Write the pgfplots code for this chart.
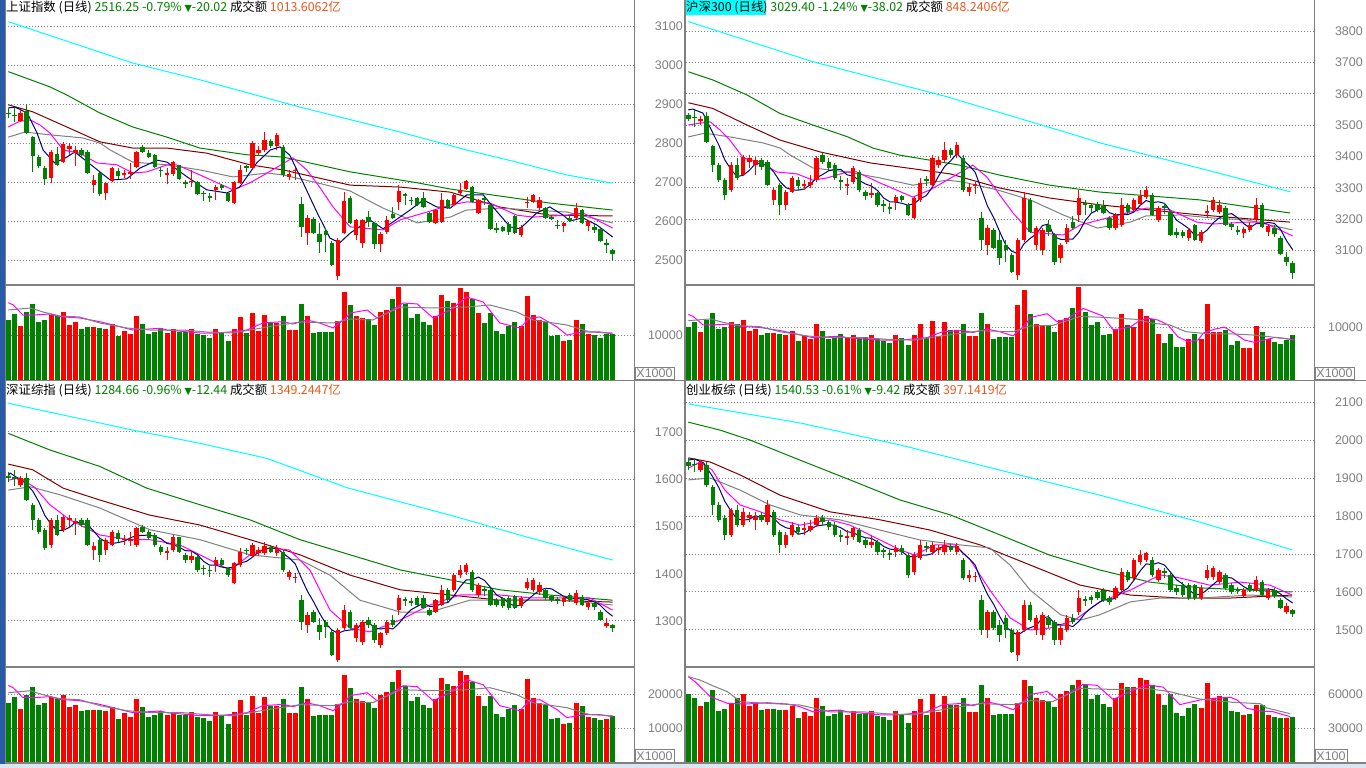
\documentclass[border=0pt]{standalone}
\usepackage{fontspec}
\setmainfont{Liberation Sans}
\newfontfamily\cjk{Noto Sans CJK SC}
\newfontfamily\dejavu{DejaVu Sans}
\usepackage{pgfplots}
\usepackage{pgfplotstable}
\pgfplotsset{compat=1.18}

\definecolor{kred}{RGB}{255,0,0}
\definecolor{kgreen}{RGB}{0,128,0}
\definecolor{maA}{RGB}{0,0,128}
\definecolor{maB}{RGB}{255,0,255}
\definecolor{maC}{RGB}{128,128,128}
\definecolor{maD}{RGB}{128,0,0}
\definecolor{maE}{RGB}{0,128,0}
\definecolor{maF}{RGB}{0,255,255}
\definecolor{frm}{RGB}{128,128,128}
\definecolor{lab}{RGB}{128,128,128}
\definecolor{amt}{RGB}{230,90,30}
\definecolor{txg}{RGB}{0,128,0}
\definecolor{winblue}{RGB}{40,90,170}
\definecolor{stat}{RGB}{220,230,242}

\pgfplotsset{
  kbase/.style={scale only axis, anchor=north west, width=628.5pt,
    axis line style={draw=none}, xtick=\empty, xmin=-0.46, xmax=102.5,
    scaled y ticks=false,
    yticklabel pos=right, major tick length=0pt, ymajorgrids,
    grid style={draw=lab, line width=1pt, dash pattern=on 1pt off 2pt},
    yticklabel style={anchor=east, inner sep=0pt, xshift=49pt,
      font=\fontsize{12.5}{12.5}\selectfont, text=lab}},
  wickg/.style={kgreen, line width=1pt, quiver={u=0,v=\thisrow{h}-\thisrow{l}},
    restrict expr to domain={\thisrow{c}-\thisrow{o}}{-100000:-0.0001}},
  bodyg/.style={kgreen, line width=4.4pt, quiver={u=0,v=\thisrow{c}-\thisrow{o}},
    restrict expr to domain={\thisrow{c}-\thisrow{o}}{-100000:-0.0001}},
  wickr/.style={kred, line width=1pt, quiver={u=0,v=\thisrow{h}-\thisrow{l}},
    restrict expr to domain={\thisrow{c}-\thisrow{o}}{0:100000}},
  bodyr/.style={kred, line width=4.4pt, quiver={u=0,v=\thisrow{c}-\thisrow{o}},
    restrict expr to domain={\thisrow{c}-\thisrow{o}}{0:100000}},
  volg/.style={kgreen, line width=5pt, ycomb,
    restrict expr to domain={\thisrow{c}-\thisrow{o}}{-100000:-0.0001}},
  volr/.style={kred, line width=5pt, ycomb,
    restrict expr to domain={\thisrow{c}-\thisrow{o}}{0:100000}},
  ma/.style={line width=1pt},
}

% 上证指数
\pgfplotstableread{
i o h l c v
0 2877 2890 2864 2875 13300
1 2873 2892 2854 2870 14700
2 2856 2885 2854 2877 12000
3 2882 2900 2823 2826 15100
4 2815 2818 2726 2767 16900
5 2764 2769 2736 2741 12900
6 2736 2741 2692 2708 13300
7 2710 2782 2697 2777 14500
8 2772 2790 2741 2744 14200
9 2751 2803 2749 2797 15100
10 2785 2800 2769 2792 12300
11 2774 2792 2741 2782 12900
12 2782 2787 2764 2769 11400
13 2777 2782 2721 2723 11800
14 2692 2718 2672 2705 11800
15 2723 2726 2664 2669 11600
16 2672 2700 2654 2697 11400
17 2703 2739 2700 2736 12400
18 2728 2736 2708 2715 9800
19 2719 2731 2710 2722 11000
20 2721 2749 2708 2726 10200
21 2739 2780 2736 2777 14200
22 2790 2795 2774 2777 12400
23 2774 2782 2762 2764 10200
24 2769 2772 2736 2739 10700
25 2732 2739 2713 2729 11500
26 2718 2736 2695 2722 10500
27 2721 2754 2715 2751 11300
28 2744 2744 2705 2708 10700
29 2700 2705 2685 2695 10700
30 2700 2731 2687 2703 11300
31 2700 2703 2667 2669 10200
32 2671 2677 2651 2668 9900
33 2663 2672 2649 2660 9300
34 2680 2692 2654 2687 11300
35 2692 2695 2680 2685 10500
36 2672 2674 2649 2651 8700
37 2646 2703 2644 2700 11300
38 2697 2744 2695 2731 14000
39 2740 2744 2726 2737 10500
40 2736 2805 2733 2800 14900
41 2774 2792 2769 2782 11000
42 2782 2828 2777 2808 14500
43 2805 2810 2787 2792 12600
44 2792 2826 2782 2821 12600
45 2790 2795 2713 2718 14200
46 2713 2731 2705 2721 11100
47 2727 2736 2705 2730 11100
48 2644 2662 2559 2585 16900
49 2569 2615 2538 2608 14200
50 2605 2610 2567 2569 10400
51 2567 2595 2518 2546 10700
52 2574 2582 2521 2564 10700
53 2544 2549 2485 2487 10700
54 2459 2556 2449 2551 13100
55 2569 2674 2567 2651 19600
56 2659 2664 2592 2595 16700
57 2564 2605 2551 2603 14200
58 2544 2605 2531 2603 13700
59 2610 2626 2585 2597 13500
60 2595 2597 2528 2541 12200
61 2541 2572 2521 2567 15100
62 2572 2613 2567 2603 15600
63 2618 2636 2605 2608 18000
64 2649 2692 2628 2677 20700
65 2668 2672 2641 2665 17000
66 2655 2662 2641 2652 13800
67 2659 2662 2639 2641 14700
68 2659 2674 2633 2636 12900
69 2621 2623 2595 2597 12200
70 2595 2631 2592 2628 14200
71 2597 2672 2595 2654 18900
72 2654 2656 2631 2633 17600
73 2641 2669 2639 2667 17100
74 2672 2697 2667 2680 20400
75 2682 2705 2680 2703 19600
76 2687 2690 2646 2649 18000
77 2621 2656 2618 2654 14900
78 2658 2662 2641 2655 12700
79 2641 2644 2577 2580 14900
80 2582 2595 2569 2577 10900
81 2585 2587 2572 2574 10200
82 2592 2597 2564 2572 12000
83 2613 2615 2567 2569 12900
84 2564 2590 2559 2585 12000
85 2648 2662 2633 2650 18700
86 2649 2669 2646 2667 14400
87 2633 2662 2628 2654 13300
88 2633 2636 2605 2608 12900
89 2610 2615 2603 2606 9800
90 2591 2603 2580 2588 10000
91 2587 2597 2572 2595 8700
92 2608 2615 2597 2600 8900
93 2608 2646 2605 2633 13300
94 2628 2631 2592 2595 12500
95 2587 2603 2574 2600 10200
96 2585 2592 2569 2577 10000
97 2580 2582 2546 2549 9300
98 2544 2554 2518 2538 10200
99 2526 2528 2497 2516 10200
}\tl

% 沪深300
\pgfplotstableread{
i o h l c v
0 3533 3539 3514 3520 9980
1 3525 3549 3495 3522 11030
2 3514 3530 3501 3520 9000
3 3530 3543 3444 3447 11330
4 3434 3437 3351 3373 12680
5 3373 3380 3319 3325 9680
6 3325 3332 3262 3278 9980
7 3294 3383 3287 3373 10880
8 3373 3396 3325 3332 10650
9 3341 3405 3338 3399 11330
10 3383 3405 3364 3396 9230
11 3373 3399 3341 3389 9680
12 3389 3396 3357 3367 8550
13 3383 3389 3306 3310 8850
14 3262 3303 3246 3294 8850
15 3310 3316 3214 3246 8700
16 3246 3293 3230 3287 8550
17 3287 3338 3284 3332 9300
18 3325 3335 3294 3306 7350
19 3306 3325 3294 3313 8250
20 3310 3341 3300 3319 7650
21 3325 3402 3319 3396 10650
22 3405 3415 3377 3383 9300
23 3383 3396 3357 3364 7650
24 3373 3380 3325 3332 8030
25 3325 3338 3294 3319 8630
26 3306 3332 3278 3313 7880
27 3319 3370 3313 3364 8480
28 3351 3357 3287 3294 8030
29 3287 3294 3262 3274 8030
30 3278 3316 3268 3284 8480
31 3284 3287 3239 3246 7650
32 3249 3262 3223 3243 7430
33 3239 3252 3217 3233 6980
34 3255 3278 3230 3271 8480
35 3274 3278 3255 3262 7880
36 3246 3252 3211 3214 6530
37 3204 3274 3201 3268 8480
38 3262 3332 3255 3316 10500
39 3328 3338 3306 3322 7880
40 3310 3405 3303 3396 11180
41 3373 3399 3364 3389 8250
42 3389 3447 3383 3421 10880
43 3421 3428 3396 3405 9450
44 3405 3447 3396 3437 9450
45 3396 3405 3287 3294 10650
46 3287 3316 3274 3303 8330
47 3306 3319 3281 3313 8330
48 3204 3223 3102 3134 12680
49 3118 3182 3086 3172 10650
50 3166 3172 3105 3108 7800
51 3134 3159 3054 3076 8030
52 3118 3134 3064 3102 8030
53 3086 3092 3029 3032 8030
54 3022 3140 3006 3134 14150
55 3134 3287 3128 3268 17000
56 3262 3268 3156 3159 12530
57 3118 3179 3102 3172 10650
58 3102 3172 3086 3166 10280
59 3182 3198 3147 3159 10130
60 3150 3156 3054 3064 9150
61 3076 3124 3060 3118 11330
62 3128 3185 3121 3172 11700
63 3191 3211 3166 3172 13500
64 3214 3294 3191 3268 17500
65 3252 3262 3214 3246 12750
66 3246 3252 3217 3236 10350
67 3249 3255 3223 3230 11030
68 3242 3262 3217 3220 8490
69 3204 3211 3166 3172 8680
70 3172 3220 3166 3214 9560
71 3182 3268 3175 3246 12450
72 3246 3252 3217 3223 10380
73 3230 3268 3223 3262 10060
74 3249 3293 3242 3274 13400
75 3271 3306 3265 3293 12080
76 3278 3284 3211 3214 11450
77 3198 3242 3191 3236 8680
78 3242 3252 3217 3236 7040
79 3223 3230 3147 3150 8680
80 3159 3172 3140 3150 6290
81 3159 3166 3140 3147 6290
82 3140 3172 3131 3166 7740
83 3182 3185 3131 3134 8680
84 3131 3166 3124 3159 7740
85 3220 3246 3204 3226 14340
86 3230 3271 3223 3262 9060
87 3223 3262 3217 3246 9060
88 3236 3242 3178 3182 9430
89 3185 3191 3166 3175 6600
90 3166 3178 3150 3159 7360
91 3156 3175 3140 3169 6040
92 3166 3191 3159 3182 6040
93 3198 3268 3191 3246 10190
94 3246 3252 3172 3175 9060
95 3159 3185 3147 3178 7740
96 3172 3182 3143 3153 7170
97 3140 3147 3086 3089 6790
98 3080 3096 3051 3064 7550
99 3061 3067 3009 3029 8490
}\tr

% 深证综指
\pgfplotstableread{
i o h l c v
0 1607 1615 1594 1603 17420
1 1605 1620 1586 1601 19260
2 1588 1607 1584 1603 15720
3 1603 1613 1554 1556 19780
4 1546 1550 1493 1514 22140
5 1514 1518 1484 1488 16900
6 1493 1497 1450 1455 17420
7 1461 1518 1455 1514 19000
8 1514 1524 1480 1482 18600
9 1493 1524 1488 1520 19780
10 1514 1524 1499 1518 16110
11 1507 1518 1482 1511 16900
12 1514 1518 1499 1503 14930
13 1514 1518 1459 1461 15460
14 1450 1467 1429 1459 15460
15 1471 1476 1425 1440 15200
16 1450 1476 1440 1471 14930
17 1461 1493 1459 1488 16240
18 1486 1493 1467 1474 12840
19 1471 1482 1461 1474 14410
20 1469 1488 1459 1474 13360
21 1461 1499 1457 1497 18600
22 1499 1503 1486 1488 16240
23 1488 1493 1471 1476 13360
24 1482 1486 1457 1461 14020
25 1457 1461 1440 1446 15070
26 1444 1457 1429 1448 13760
27 1450 1482 1446 1478 14800
28 1478 1478 1444 1446 14020
29 1440 1444 1423 1429 14020
30 1429 1450 1423 1437 14800
31 1435 1440 1404 1408 13360
32 1412 1418 1397 1410 12970
33 1408 1416 1393 1406 12180
34 1418 1435 1404 1429 14800
35 1429 1434 1414 1418 13760
36 1412 1414 1393 1397 11400
37 1381 1425 1378 1423 14800
38 1418 1454 1414 1446 18340
39 1450 1454 1440 1448 13760
40 1438 1465 1433 1461 19520
41 1444 1457 1438 1450 14410
42 1444 1467 1440 1459 19000
43 1457 1461 1444 1446 16510
44 1444 1461 1438 1454 16510
45 1446 1450 1404 1408 18600
46 1393 1408 1387 1404 14540
47 1391 1401 1381 1393 14540
48 1344 1355 1281 1298 22140
49 1292 1319 1275 1313 18600
50 1319 1323 1296 1298 13620
51 1292 1306 1260 1277 14020
52 1298 1302 1264 1287 14020
53 1277 1281 1226 1228 14020
54 1218 1285 1213 1281 17160
55 1285 1334 1281 1323 25680
56 1319 1323 1281 1285 21880
57 1264 1296 1256 1292 18600
58 1256 1302 1249 1298 17950
59 1302 1308 1285 1292 17690
60 1292 1296 1254 1260 15980
61 1249 1277 1243 1275 19780
62 1275 1302 1270 1298 20440
63 1302 1313 1288 1292 23580
64 1323 1355 1313 1349 27120
65 1347 1351 1332 1342 22270
66 1342 1349 1332 1338 18080
67 1349 1353 1332 1334 19260
68 1349 1355 1325 1328 16900
69 1323 1327 1310 1313 15980
70 1319 1346 1317 1344 18600
71 1334 1376 1332 1366 24760
72 1366 1370 1340 1344 23060
73 1366 1401 1361 1397 22400
74 1397 1418 1391 1408 26720
75 1404 1423 1397 1418 25680
76 1404 1408 1361 1366 23580
77 1355 1380 1351 1376 19520
78 1368 1374 1353 1363 16640
79 1366 1370 1332 1334 19520
80 1344 1349 1330 1334 14280
81 1349 1351 1328 1332 13360
82 1349 1353 1323 1328 15720
83 1353 1355 1325 1328 16900
84 1332 1353 1328 1349 15720
85 1370 1391 1366 1383 24500
86 1366 1391 1361 1387 18860
87 1361 1383 1355 1376 17420
88 1366 1370 1344 1349 16900
89 1353 1355 1340 1344 12840
90 1347 1351 1336 1342 13100
91 1340 1353 1332 1349 11400
92 1355 1359 1340 1344 11660
93 1338 1366 1334 1359 17420
94 1351 1355 1332 1334 16380
95 1330 1344 1323 1338 13360
96 1338 1342 1323 1330 13100
97 1319 1323 1300 1302 12420
98 1290 1306 1285 1296 12710
99 1292 1294 1277 1285 13590
}\bl

% 创业板综
\pgfplotstableread{
i o h l c v
0 1942 1953 1921 1932 59740
1 1937 1953 1916 1934 56760
2 1921 1947 1916 1940 49500
3 1934 1942 1876 1882 53260
4 1876 1882 1803 1829 63500
5 1829 1837 1784 1790 45130
6 1795 1803 1737 1750 46880
7 1750 1821 1745 1816 50990
8 1816 1829 1771 1776 56800
9 1776 1821 1771 1811 60400
10 1795 1811 1784 1803 49200
11 1790 1811 1763 1797 51600
12 1803 1811 1784 1790 45600
13 1784 1842 1776 1829 47200
14 1811 1816 1745 1750 47200
15 1758 1763 1702 1724 46400
16 1724 1758 1716 1750 45600
17 1750 1784 1745 1776 49600
18 1771 1776 1750 1758 39200
19 1763 1784 1750 1768 44000
20 1763 1790 1758 1774 40800
21 1776 1803 1771 1795 56800
22 1795 1803 1776 1784 49600
23 1784 1790 1763 1771 40800
24 1776 1784 1745 1750 42800
25 1750 1763 1732 1745 46000
26 1742 1763 1724 1747 42000
27 1745 1771 1737 1768 45200
28 1763 1768 1729 1732 42800
29 1737 1745 1716 1724 42800
30 1724 1750 1716 1732 45200
31 1732 1737 1697 1705 40800
32 1711 1716 1690 1705 39600
33 1703 1711 1684 1697 37200
34 1705 1724 1692 1716 45200
35 1716 1724 1697 1705 42000
36 1697 1703 1637 1645 34800
37 1653 1705 1645 1697 45200
38 1690 1737 1684 1724 56000
39 1721 1732 1705 1716 42000
40 1705 1732 1697 1724 59600
41 1711 1724 1697 1716 44000
42 1705 1737 1697 1724 58000
43 1721 1726 1705 1711 50400
44 1705 1729 1697 1721 50400
45 1684 1690 1632 1637 56800
46 1637 1658 1626 1645 44400
47 1640 1653 1626 1642 44400
48 1579 1592 1487 1500 67600
49 1500 1553 1479 1547 56800
50 1547 1553 1500 1505 41600
51 1513 1526 1468 1487 42800
52 1532 1540 1479 1500 42800
53 1500 1505 1439 1442 42800
54 1434 1500 1418 1495 52400
55 1500 1579 1495 1566 72000
56 1566 1574 1521 1526 66800
57 1500 1540 1487 1532 56800
58 1487 1547 1474 1540 54800
59 1532 1540 1505 1513 54000
60 1521 1526 1461 1474 48800
61 1474 1513 1461 1505 60400
62 1500 1540 1495 1532 62400
63 1532 1542 1516 1521 68000
64 1547 1605 1540 1584 72000
65 1582 1589 1563 1576 68000
66 1587 1592 1568 1579 55200
67 1600 1605 1579 1584 58800
68 1605 1611 1574 1579 51600
69 1584 1590 1566 1574 48800
70 1584 1616 1579 1611 56800
71 1605 1663 1600 1653 70000
72 1653 1658 1626 1632 66000
73 1637 1690 1632 1684 66000
74 1679 1711 1671 1697 74000
75 1684 1705 1679 1703 72000
76 1684 1692 1640 1645 68000
77 1632 1663 1626 1658 59600
78 1655 1663 1637 1650 50800
79 1645 1650 1600 1605 59600
80 1611 1618 1592 1600 43600
81 1618 1626 1587 1592 40800
82 1618 1624 1579 1584 48000
83 1618 1621 1579 1584 51600
84 1584 1618 1579 1611 48020
85 1637 1671 1632 1658 69880
86 1640 1668 1632 1663 56240
87 1626 1658 1621 1653 58250
88 1645 1650 1605 1611 56760
89 1618 1624 1595 1600 45130
90 1608 1613 1595 1603 44260
91 1590 1611 1584 1605 41630
92 1618 1624 1600 1605 42510
93 1605 1642 1600 1632 50380
94 1626 1632 1589 1592 50380
95 1584 1611 1579 1605 41630
96 1605 1611 1584 1590 39880
97 1579 1584 1555 1558 39010
98 1547 1571 1542 1563 39010
99 1553 1555 1534 1541 39880
}\br

\newcommand\candles[1]{%
  \addplot[wickg] table[x=i,y=l] {#1};
  \addplot[bodyg] table[x=i,y=o] {#1};
  \addplot[wickr] table[x=i,y=l] {#1};
  \addplot[bodyr] table[x=i,y=o] {#1};}
\newcommand\volbars[1]{%
  \addplot[volg] table[x=i,y=v] {#1};
  \addplot[volr] table[x=i,y=v] {#1};}

\begin{document}
\begin{tikzpicture}[x=1pt,y=1pt]
\useasboundingbox (0,0) rectangle (1366,-768);
\fill[white] (0,0) rectangle (1366,-768);

% ---------- 上证指数 ----------
\begin{axis}[kbase, at={(5.5pt,0pt)}, height=285pt, ymin=2435.9, ymax=3166.7,
  ytick={2500,2600,2700,2800,2900,3000,3100},
  yticklabels={2500,2600,2700,2800,2900,3000,3100}]
\addplot[ma, maF] coordinates {(0,3111) (20.4,3005) (31.4,2962) (47.8,2892) (64.2,2828) (75.1,2782) (83.3,2751) (91.5,2718) (99,2697)};
\addplot[ma, maE] coordinates {(0,2983) (6.8,2944) (9.6,2923) (15,2877) (20.4,2841) (26,2815) (31.4,2787) (39,2770) (45,2764) (56,2726) (67,2698) (72.4,2682) (88.7,2646) (99,2628)};
\addplot[ma, maD] coordinates {(0,2898) (4,2880) (9.6,2841) (15,2803) (20.4,2787) (26,2787) (32.5,2774) (39.6,2744) (45,2731) (56,2692) (64.2,2687) (72.4,2674) (80.5,2636) (88.7,2615) (99,2613)};
\addplot[ma, maC] coordinates {(0,2815) (2.7,2828) (6.8,2821) (12.2,2813) (15,2800) (16.7,2782) (20.4,2751) (26,2744) (31.4,2731) (36.8,2713) (42.4,2723) (45,2718) (50.6,2698) (56,2677) (61.4,2633) (67,2595) (72.4,2610) (75,2628) (80.5,2633) (86,2628) (91.5,2623) (99,2595)};
\addplot[ma, maB] coordinates {(0,2841) (1.9,2856) (3.6,2859) (5.2,2846) (6.8,2826) (9,2782) (11.7,2774) (14.5,2749) (17.8,2744) (20.4,2723) (22.7,2726) (26,2744) (27.6,2744) (31.4,2718) (36.8,2680) (39.6,2698) (42.4,2723) (46.6,2762) (48.9,2731) (51,2687) (53.2,2636) (56,2585) (61.4,2577) (64.2,2603) (68.6,2623) (72.4,2641) (75.1,2649) (78.9,2646) (83.3,2615) (86,2610) (91.5,2615) (94.1,2621) (99,2582)};
\addplot[ma, maA] coordinates {(0,2890) (1.1,2892) (3.1,2877) (4.7,2826) (5.7,2782) (7.6,2749) (9.6,2764) (10.9,2777) (15,2726) (16.7,2705) (19.4,2708) (21.6,2736) (24.4,2756) (26,2751) (29.3,2713) (32.5,2680) (35.8,2672) (37.9,2687) (40.7,2749) (42.9,2782) (44.5,2790) (46.1,2769) (48.3,2698) (50.6,2621) (52.7,2556) (54.3,2544) (56,2569) (59.2,2603) (61.4,2580) (65.8,2628) (68,2654) (70.2,2636) (72.4,2633) (75.1,2667) (77.8,2667) (79.4,2636) (82.2,2585) (83.8,2580) (86.6,2621) (88.7,2636) (90.9,2615) (92,2600) (94.1,2608) (96.4,2590) (99,2559)};
\candles{\tl}
\end{axis}
\begin{axis}[kbase, at={(5.5pt,-285pt)}, height=95pt, ymin=0, ymax=21111,
  ytick={10000}, yticklabels={10000}]
\volbars{\tl}
\addplot[ma, maB] coordinates {(0,17180) (0.8,16670) (2.4,14440) (4,14440) (6.8,14670) (8.5,14070) (11.7,13780) (15,12960) (17.2,12220) (20.4,11110) (24.9,11490) (26,11110) (31.4,10440) (34.2,10440) (36.8,10730) (39.1,11110) (41.7,12670) (45,12960) (46.6,12440) (48.9,13330) (51,12670) (53.2,11560) (55.3,13780) (56,14890) (58.8,15550) (60.4,13780) (62,14890) (64.7,17110) (67,16890) (69.6,13780) (72.4,15550) (75.1,18440) (77.8,17330) (80.5,12670) (83.8,11560) (85.4,13780) (87.1,14000) (89.9,11780) (91.5,10000) (94.1,10670) (96.9,10670) (99,10220)};
\addplot[ma, maC] coordinates {(0,15550) (3.6,16000) (5.7,15110) (8.5,14220) (11.7,14000) (15,12670) (19.4,11560) (23.2,11110) (28.6,11110) (32.5,10670) (36.8,10440) (42.4,11780) (47.8,12890) (53.2,12670) (56,13560) (59.7,13330) (64.2,16220) (69.6,16000) (75.1,16220) (78.9,16670) (83.3,15110) (86,13330) (91.5,12220) (95.3,10670) (99,10440)};
\end{axis}

% ---------- 沪深300 ----------
\begin{axis}[kbase, at={(685.5pt,0pt)}, height=285pt, ymin=2990.3, ymax=3900,
  ytick={3100,3200,3300,3400,3500,3600,3700,3800},
  yticklabels={3100,3200,3300,3400,3500,3600,3700,3800}]
\addplot[ma, maF] coordinates {(0,3831) (20.4,3703) (42.4,3591) (64.2,3464) (67.4,3444) (83.8,3363) (98.6,3288)};
\addplot[ma, maE] coordinates {(0,3671) (4,3645) (9.6,3597) (15,3538) (20.4,3501) (26,3464) (30.3,3427) (34.6,3405) (44.4,3373) (51,3341) (59.2,3309) (67.4,3287) (83.8,3262) (98.6,3220)};
\addplot[ma, maD] coordinates {(0,3572) (4,3554) (9.6,3501) (15,3453) (21.6,3415) (29.8,3380) (42.9,3345) (51,3300) (59.2,3268) (67.4,3246) (83.8,3214) (98.6,3191)};
\addplot[ma, maC] coordinates {(0,3463) (2.7,3475) (6.8,3463) (12.2,3444) (15,3428) (16.7,3405) (20.4,3364) (26,3351) (31.4,3332) (36.8,3309) (42.4,3325) (45,3319) (50.6,3294) (56,3262) (61.4,3214) (67,3172) (72.4,3191) (75,3211) (80.5,3214) (86,3204) (91.5,3198) (99,3166)};
\addplot[ma, maB] coordinates {(0,3501) (1.9,3507) (3.6,3511) (5.2,3485) (6.8,3453) (9,3396) (11.7,3383) (14.5,3351) (17.8,3345) (20.4,3325) (22.7,3332) (26,3351) (27.6,3351) (31.4,3316) (36.8,3271) (39.6,3294) (42.4,3325) (46.6,3373) (48.9,3335) (51,3278) (53.2,3220) (56,3159) (61.4,3150) (64.2,3182) (68.6,3204) (72.4,3223) (75.1,3236) (78.9,3230) (83.3,3191) (86,3185) (91.5,3191) (94.1,3191) (99,3147)};
\addplot[ma, maA] coordinates {(0,3549) (0.7,3552) (2.4,3539) (4,3476) (5,3437) (6,3389) (7,3359) (8,3336) (9,3341) (10,3356) (11,3378) (12,3377) (13,3372) (14,3351) (15,3321) (16,3301) (17,3294) (18,3293) (19,3297) (20,3311) (21,3333) (22,3343) (23,3355) (24,3359) (25,3359) (26,3342) (27,3338) (28,3324) (29,3313) (30,3306) (31,3292) (32,3268) (33,3256) (34,3255) (35,3251) (36,3245) (37,3250) (38,3266) (39,3276) (40,3303) (41,3338) (42,3369) (43,3387) (44,3410) (45,3389) (46,3372) (47,3350) (48,3296) (49,3243) (50,3206) (51,3161) (52,3118) (53,3098) (54,3090) (55,3122) (56,3139) (57,3153) (58,3180) (59,3185) (60,3144) (61,3136) (62,3136) (63,3137) (64,3159) (65,3195) (66,3219) (67,3230) (68,3240) (69,3221) (70,3214) (71,3216) (72,3215) (73,3223) (74,3244) (75,3260) (76,3253) (77,3256) (78,3251) (79,3226) (80,3197) (81,3184) (82,3170) (83,3149) (84,3151) (85,3166) (86,3189) (87,3205) (88,3215) (89,3218) (90,3205) (91,3186) (92,3173) (93,3186) (94,3186) (95,3190) (96,3187) (97,3168) (98,3132) (99,3103)};
\candles{\tr}
\end{axis}
\begin{axis}[kbase, at={(685.5pt,-285pt)}, height=95pt, ymin=0, ymax=17925,
  ytick={10000}, yticklabels={10000}]
\volbars{\tr}
\addplot[ma, maB] coordinates {(0,12370) (0.8,12000) (2.4,10400) (4,10400) (6.8,10560) (8.5,10130) (11.7,9920) (15,9330) (17.2,8800) (20.4,8000) (24.9,8270) (26,8000) (31.4,7520) (34.2,7520) (36.8,7730) (39.1,8000) (41.7,9120) (45,9330) (46.6,8960) (48.9,9600) (51,9120) (53.2,8320) (55.3,10500) (56,11800) (58.8,12500) (60.4,11000) (62,11500) (64.7,13500) (67.9,12080) (69.6,9430) (72.4,10000) (73.6,10950) (75.2,11700) (76.9,11320) (78.6,10380) (80.2,8160) (81.9,7230) (83.5,7550) (84.4,8870) (86.1,9560) (87.8,9980) (89.4,8870) (91.1,7550) (92.7,7110) (94.4,7550) (96.1,8040) (97.7,7860) (99.2,7550)};
\addplot[ma, maC] coordinates {(0,11200) (3.6,11520) (5.7,10880) (8.5,10240) (11.7,10080) (15,9120) (19.4,8320) (23.2,8000) (28.6,8000) (32.5,7680) (36.8,7520) (42.4,8480) (47.8,9280) (53.2,9120) (56,10200) (59.7,10300) (64.2,12000) (67.9,11830) (73.3,11450) (76.1,10700) (78.9,10380) (81.5,9120) (84.3,8810) (87,8680) (89.4,8680) (92.5,8490) (95.1,8180) (98.6,7670)};
\end{axis}

% ---------- 深证综指 ----------
\begin{axis}[kbase, at={(5.5pt,-381pt)}, height=286pt, ymin=1202.6, ymax=1807.9,
  ytick={1300,1400,1500,1600,1700}, yticklabels={1300,1400,1500,1600,1700}]
\addplot[ma, maF] coordinates {(0,1761) (20.4,1704) (31.4,1676) (42.4,1644) (55.5,1582) (72.4,1524) (85.4,1476) (99,1429)};
\addplot[ma, maE] coordinates {(0,1697) (6.8,1662) (15,1627) (22.7,1581) (31.4,1546) (39.6,1514) (47.8,1472) (56,1440) (64.2,1408) (72.4,1387) (80.5,1366) (88.7,1355) (99,1344)};
\addplot[ma, maD] coordinates {(0,1632) (4,1620) (9,1581) (15,1556) (23.2,1524) (31.4,1503) (39.6,1472) (47.8,1440) (56,1397) (64.2,1366) (72.4,1355) (80.5,1344) (88.7,1344) (99,1340)};
\addplot[ma, maC] coordinates {(0,1577) (3.6,1584) (8.5,1567) (15,1539) (23.2,1493) (31.4,1472) (39.6,1440) (47.8,1429) (52.7,1397) (57.6,1344) (64.2,1319) (69.1,1319) (75.6,1344) (80.5,1344) (90.4,1344) (99,1334)};
\addplot[ma, maB] coordinates {(0,1598) (1.9,1603) (4.4,1582) (6.8,1546) (10.1,1514) (15,1482) (19.9,1472) (23.2,1472) (28.1,1461) (31.4,1440) (36.3,1408) (39.6,1440) (42.9,1455) (46.1,1450) (49.4,1408) (52.7,1323) (56,1285) (59.2,1277) (64.2,1302) (69.1,1334) (74,1355) (80.5,1355) (85.5,1349) (90.4,1349) (95.2,1349) (99,1323)};
\addplot[ma, maA] coordinates {(0,1607) (0.3,1613) (2.8,1592) (4,1575) (5,1552) (6,1523) (7,1505) (8,1491) (9,1492) (10,1498) (11,1509) (12,1507) (13,1503) (14,1490) (15,1475) (16,1467) (17,1464) (18,1466) (19,1469) (20,1476) (21,1481) (22,1481) (23,1482) (24,1479) (25,1474) (26,1464) (27,1462) (28,1456) (29,1449) (30,1448) (31,1440) (32,1426) (33,1418) (34,1418) (35,1414) (36,1412) (37,1415) (38,1423) (39,1426) (40,1435) (41,1446) (42,1453) (43,1453) (44,1454) (45,1443) (46,1434) (47,1421) (48,1391) (49,1363) (50,1341) (51,1316) (52,1295) (53,1281) (54,1274) (55,1279) (56,1281) (57,1282) (58,1296) (59,1298) (60,1285) (61,1283) (62,1285) (63,1283) (64,1295) (65,1311) (66,1324) (67,1331) (68,1338) (69,1331) (70,1331) (71,1337) (72,1339) (73,1353) (74,1372) (75,1387) (76,1387) (77,1393) (78,1386) (79,1371) (80,1355) (81,1348) (82,1338) (83,1331) (84,1334) (85,1344) (86,1355) (87,1365) (88,1369) (89,1368) (90,1360) (91,1352) (92,1346) (93,1348) (94,1346) (95,1345) (96,1341) (97,1333) (98,1320) (99,1310)};
\candles{\bl}
\end{axis}
\begin{axis}[kbase, at={(5.5pt,-667pt)}, height=95.6pt, ymin=0, ymax=27872,
  ytick={10000,20000}, yticklabels={10000,20000}]
\volbars{\bl}
\addplot[ma, maB] coordinates {(0,22500) (0.8,21840) (2.4,18920) (4,18920) (6.8,19220) (8.5,18430) (11.7,18050) (15,16980) (17.2,16010) (20.4,14550) (24.9,15050) (26,14550) (31.4,13680) (34.2,13680) (36.8,14060) (39.1,14550) (41.7,16600) (45,16980) (46.6,16300) (48.9,17460) (51,16600) (53.2,15140) (55.3,18050) (56,19510) (58.8,20370) (60.4,18050) (62,19510) (64.7,22410) (67,22130) (69.6,18050) (72.4,20370) (75.1,24160) (77.8,22700) (80.5,16600) (83.8,15140) (85.4,18050) (87.1,18340) (89.9,15430) (91.5,13100) (94.1,13980) (96.9,13980) (99,13390)};
\addplot[ma, maC] coordinates {(0,20370) (3.6,20960) (5.7,19790) (8.5,18630) (11.7,18340) (15,16600) (19.4,15140) (23.2,14550) (28.6,14550) (32.5,13980) (36.8,13680) (42.4,15430) (47.8,16890) (53.2,16600) (56,17760) (59.7,17460) (64.2,21250) (69.6,20960) (75.1,21250) (78.9,21840) (83.3,19790) (86,17460) (91.5,16010) (95.3,13980) (99,13680)};
\end{axis}

% ---------- 创业板综 ----------
\begin{axis}[kbase, at={(685.5pt,-381pt)}, height=286pt, ymin=1402.6, ymax=2155.3,
  ytick={1500,1600,1700,1800,1900,2000,2100},
  yticklabels={1500,1600,1700,1800,1900,2000,2100}]
\addplot[ma, maF] coordinates {(0,2095) (18.3,2045) (34.7,1987) (51,1921) (67.4,1855) (83.8,1784) (98.9,1711)};
\addplot[ma, maE] coordinates {(0,2047) (5.2,2026) (10.1,2000) (18.3,1947) (26.5,1895) (34.7,1842) (42.9,1803) (51.1,1750) (59.2,1697) (67.4,1658) (75.6,1626) (83.8,1611) (92,1605) (98.9,1600)};
\addplot[ma, maD] coordinates {(0,1953) (3.6,1942) (8.5,1908) (15,1855) (23.2,1811) (31.4,1790) (39.6,1763) (47.8,1724) (56,1671) (64.2,1618) (72.4,1592) (80.5,1584) (88.7,1584) (98.9,1592)};
\addplot[ma, maC] coordinates {(0,1895) (3.6,1900) (8.5,1868) (13.4,1829) (18.3,1803) (24.8,1790) (31.4,1763) (37.9,1737) (44.5,1724) (49.4,1716) (52.7,1671) (56,1605) (61,1540) (64.2,1526) (67.4,1540) (72.4,1574) (77.3,1584) (83.8,1584) (92,1592) (98.9,1587)};
\addplot[ma, maB] coordinates {(0,1926) (1.9,1942) (3.9,1921) (6,1868) (8.5,1829) (11.8,1811) (15,1790) (18.3,1776) (23.2,1790) (26.5,1776) (31.4,1737) (34.7,1711) (37.1,1697) (40.4,1724) (43.7,1724) (46.2,1684) (49.4,1605) (52.7,1532) (56,1500) (59.2,1505) (63.3,1526) (67.4,1574) (72.4,1605) (77.3,1645) (80.5,1637) (85.4,1618) (90.4,1626) (95.3,1618) (98.9,1592)};
\addplot[ma, maA] coordinates {(0,1947) (1,1950) (2.5,1940) (4,1903) (5,1875) (6,1838) (7,1813) (8,1792) (9,1789) (10,1791) (11,1801) (12,1795) (13,1806) (14,1794) (15,1778) (16,1769) (17,1766) (18,1752) (19,1755) (20,1765) (21,1774) (22,1776) (23,1778) (24,1775) (25,1769) (26,1759) (27,1756) (28,1748) (29,1743) (30,1741) (31,1732) (32,1720) (33,1713) (34,1711) (35,1706) (36,1694) (37,1692) (38,1697) (39,1697) (40,1701) (41,1715) (42,1721) (43,1718) (44,1719) (45,1702) (46,1688) (47,1671) (48,1629) (49,1594) (50,1568) (51,1536) (52,1508) (53,1496) (54,1486) (55,1498) (56,1506) (57,1512) (58,1532) (59,1535) (60,1517) (61,1513) (62,1513) (63,1509) (64,1523) (65,1544) (66,1558) (67,1569) (68,1580) (69,1578) (70,1585) (71,1600) (72,1610) (73,1631) (74,1655) (75,1674) (76,1672) (77,1677) (78,1671) (79,1652) (80,1632) (81,1621) (82,1606) (83,1593) (84,1594) (85,1606) (86,1620) (87,1634) (88,1639) (89,1637) (90,1626) (91,1614) (92,1605) (93,1609) (94,1607) (95,1608) (96,1605) (97,1595) (98,1582) (99,1571)};
\candles{\br}
\end{axis}
\begin{axis}[kbase, at={(685.5pt,-667pt)}, height=95.6pt, ymin=0, ymax=83616,
  ytick={30000,60000}, yticklabels={30000,60000}]
\volbars{\br}
\addplot[ma, maB] coordinates {(0,75130) (1.1,70760) (3.6,57640) (6.4,51870) (9.6,51250) (12.9,52390) (16.2,51250) (18.3,48890) (20.4,44440) (24.9,45960) (26,44440) (31.4,41760) (34.2,41760) (36.8,42920) (39.1,44440) (41.7,50680) (45,51840) (46.6,49760) (48.9,53320) (51,50680) (53.2,46240) (55.3,55120) (56,59560) (58.8,62200) (60.4,55120) (62,59560) (64.7,68440) (67,67560) (69.6,55120) (72.4,62200) (75.1,68000) (77.8,66000) (80.5,50680) (83.8,54750) (86,56240) (88.8,57110) (89.9,54750) (91.5,47490) (93.7,45130) (95.8,44520) (98.6,40150)};
\addplot[ma, maC] coordinates {(0,75130) (1.9,72240) (4.1,67000) (6.4,62000) (8.6,53260) (12.9,51870) (18.3,50380) (23.2,44440) (28.6,44440) (32.5,42680) (36.8,41760) (42.4,47120) (47.8,51560) (53.2,50680) (56,54240) (59.7,53320) (64.2,64880) (69.6,64000) (75.1,64880) (78.9,62000) (83.8,55620) (89.4,52650) (91.5,52120) (93.7,51500) (94.8,47740) (98.6,42770)};
\end{axis}

% ---------- frames ----------
\fill[winblue] (0,0) rectangle (4.5,-768);
\fill[stat] (0,-763.5) rectangle (1366,-768);
\begin{scope}[frm, line width=1.2pt]
\draw (5.5,0) -- (5.5,-763);
\draw (634.5,0) -- (634.5,-763);
\draw (685,0) -- (685,-763);
\draw (1314.5,0) -- (1314.5,-763);
\draw (5.5,-285) -- (634.5,-285);
\draw (685,-285) -- (1314.5,-285);
\draw (5.5,-667) -- (634.5,-667);
\draw (685,-667) -- (1314.5,-667);
\draw (4.5,-380.7) -- (1366,-380.7);
\draw (4.5,-763) -- (1366,-763);
\end{scope}
\begin{scope}[font=\fontsize{12.5}{12.5}\selectfont]
\draw[frm, line width=1pt] (635,-367) rectangle (674,-379.5);
\node[lab, inner sep=0pt] at (654.5,-373.3) {X1000};
\draw[frm, line width=1pt] (1315,-367) rectangle (1354,-379.5);
\node[lab, inner sep=0pt] at (1334.5,-373.3) {X1000};
\draw[frm, line width=1pt] (635,-749.5) rectangle (674,-762.5);
\node[lab, inner sep=0pt] at (654.5,-756) {X1000};
\draw[frm, line width=1pt] (1315,-749.5) rectangle (1347,-762.5);
\node[lab, inner sep=0pt] at (1331,-756) {X100};
\end{scope}

% ---------- titles ----------
\fill[maF] (685.5,0) rectangle (766,-15);
\begin{scope}[font=\cjk\fontsize{12.4}{12.4}\selectfont]
\node[anchor=west, inner sep=0pt] at (6,-7.5) {上证指数 (日线) \textcolor{txg}{2516.25 -0.79\% {\dejavu\fontsize{9.5}{9.5}\selectfont ▼}-20.02} 成交额 \textcolor{amt}{1013.6062亿}};
\node[anchor=west, inner sep=0pt] at (686,-7.5) {沪深300 (日线) \textcolor{txg}{3029.40 -1.24\% {\dejavu\fontsize{9.5}{9.5}\selectfont ▼}-38.02} 成交额 \textcolor{amt}{848.2406亿}};
\node[anchor=west, inner sep=0pt] at (6,-390.5) {深证综指 (日线) \textcolor{txg}{1284.66 -0.96\% {\dejavu\fontsize{9.5}{9.5}\selectfont ▼}-12.44} 成交额 \textcolor{amt}{1349.2447亿}};
\node[anchor=west, inner sep=0pt] at (686,-390.5) {创业板综 (日线) \textcolor{txg}{1540.53 -0.61\% {\dejavu\fontsize{9.5}{9.5}\selectfont ▼}-9.42} 成交额 \textcolor{amt}{397.1419亿}};
\end{scope}
\end{tikzpicture}
\end{document}
